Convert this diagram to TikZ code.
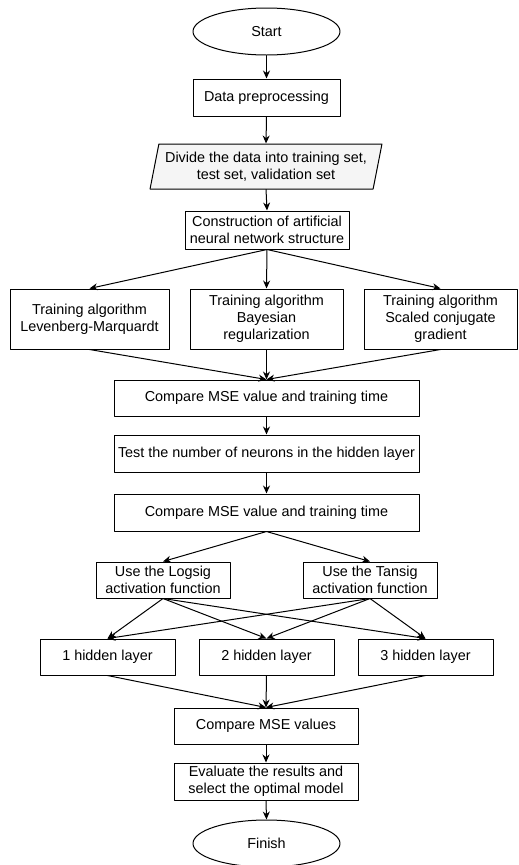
\documentclass[tikz,border=0pt]{standalone}
\usepackage{fontspec}
\setmainfont{Liberation Sans}
\usetikzlibrary{shapes.geometric,arrows.meta}
\begin{document}
\begin{tikzpicture}[x=1pt,y=-1pt,line width=1pt,>={Stealth[length=8pt,width=7pt]},
 line cap=round,line join=round,font=\fontsize{14.4}{16.8}\selectfont,
 proc/.style={draw,rectangle,fill=white,inner sep=0pt,align=center},
 term/.style={draw,ellipse,inner sep=0pt,minimum width=147,minimum height=47},
 iobox/.style={draw,trapezium,trapezium left angle=74,trapezium right angle=106,
   trapezium stretches=true,fill=gray!8,inner sep=0pt,align=center}]
\useasboundingbox (0,0) rectangle (519,865);
% F01: start, preprocessing, data split, network structure
\node[term] (start) at (266.5,31.5) {Start};
\node[proc,minimum width=147,minimum height=37] (prep) at (266.5,97.5) {Data preprocessing};
\node[iobox,minimum width=232,minimum height=45] (split) at (266,166.5)
 {Divide the data into training set,\\test set, validation set};
\node[proc,minimum width=164,minimum height=38] (build) at (267,230)
 {Construction of artificial\\neural network structure};
% F02: three training algorithms
\node[proc,minimum width=159,minimum height=60] (lm) at (89.5,319)
 {Training algorithm\\Levenberg-Marquardt};
\node[proc,minimum width=153,minimum height=60] (br) at (266.5,319)
 {Training algorithm\\Bayesian\\regularization};
\node[proc,minimum width=153,minimum height=60] (scg) at (440.5,319)
 {Training algorithm\\Scaled conjugate\\gradient};
\node[proc,minimum width=305,minimum height=36] (cmpa) at (266.5,398)
 {Compare MSE value and training time};
\node[proc,minimum width=305,minimum height=37] (neur) at (266.5,453.5)
 {Test the number of neurons in the hidden layer};
\node[proc,minimum width=305,minimum height=37] (cmpb) at (266.5,512.5)
 {Compare MSE value and training time};
% F03: activation functions and hidden layers
\node[proc,minimum width=134,minimum height=36] (logs) at (163,580)
 {Use the Logsig\\activation function};
\node[proc,minimum width=134,minimum height=36] (tans) at (370,580)
 {Use the Tansig\\activation function};
\node[proc,minimum width=135,minimum height=36] (hone) at (107.5,657) {1 hidden layer};
\node[proc,minimum width=135,minimum height=36] (htwo) at (266.5,657) {2 hidden layer};
\node[proc,minimum width=135,minimum height=36] (hthree) at (425.5,657) {3 hidden layer};
\node[proc,minimum width=184,minimum height=36] (cmpc) at (266,726) {Compare MSE values};
\node[proc,minimum width=184,minimum height=37] (eval) at (266,781.5)
 {Evaluate the results and\\select the optimal model};
\node[term] (finish) at (266.5,843.5) {Finish};
% connectors
\draw[->] (start.south)--(prep.north);
\draw[->] (prep.south)--(split.north);
\draw[->] (split.south)--(build.north);
\draw[->] (build.south)--(lm.north);
\draw[->] (build.south)--(br.north);
\draw[->] (build.south)--(scg.north);
\draw[->] (lm.south)--(cmpa.north);
\draw[->] (br.south)--(cmpa.north);
\draw[->] (scg.south)--(cmpa.north);
\draw[->] (cmpa.south)--(neur.north);
\draw[->] (neur.south)--(cmpb.north);
\draw[->] (cmpb.south)--(logs.north);
\draw[->] (cmpb.south)--(tans.north);
\draw[->] (logs.south)--(hone.north);
\draw[->] (logs.south)--(htwo.north);
\draw[->] (logs.south)--(hthree.north);
\draw[->] (tans.south)--(hone.north);
\draw[->] (tans.south)--(htwo.north);
\draw[->] (tans.south)--(hthree.north);
\draw[->] (hone.south)--(cmpc.north);
\draw[->] (htwo.south)--(cmpc.north);
\draw[->] (hthree.south)--(cmpc.north);
\draw[->] (cmpc.south)--(eval.north);
\draw[->] (eval.south)--(finish.north);
\end{tikzpicture}
\end{document}
